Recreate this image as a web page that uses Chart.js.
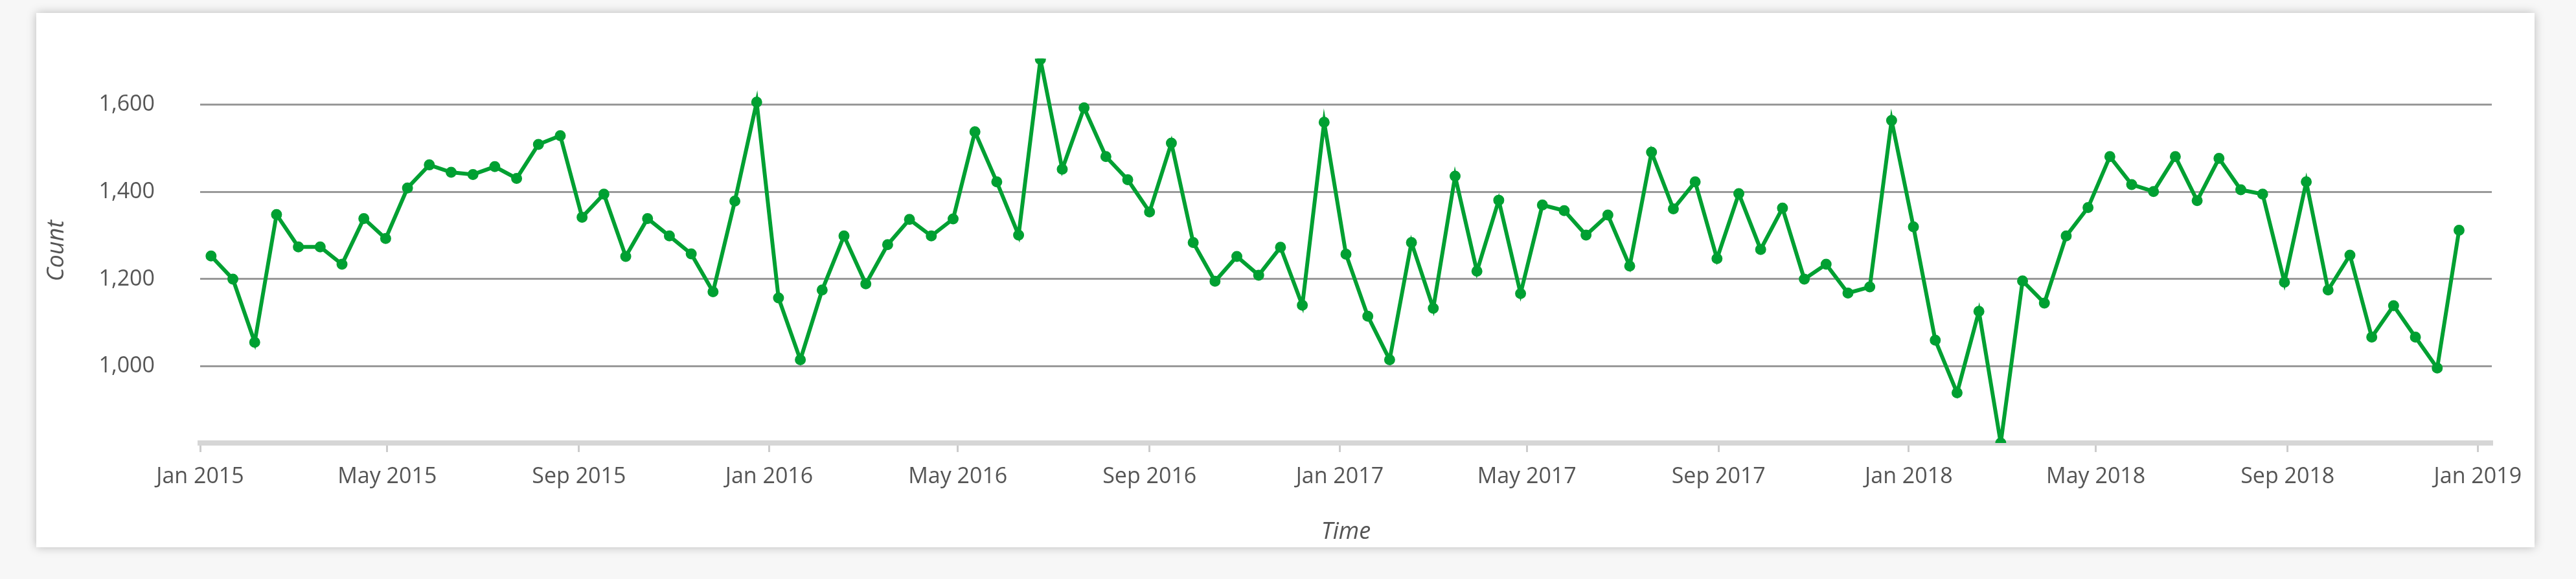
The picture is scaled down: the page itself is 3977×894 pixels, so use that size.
<!DOCTYPE html>
<html><head><meta charset="utf-8">
<script src="https://cdn.jsdelivr.net/npm/chart.js@4"></script>
<style>
html,body{margin:0;padding:0;background:#f7f7f7;}
#card{position:absolute;left:56px;top:20px;width:3857px;height:825px;background:#fff;box-shadow:0 0 14px rgba(0,0,0,0.25);}
#c{position:absolute;left:0;top:0;}
</style></head><body>
<div id="card"></div>
<canvas id="c" width="3977" height="894"></canvas>
<script>
const startDate = "2015-01-08";
const intervalDays = 14;
const counts = [1253,1200,1055,1348,1274,1274,1234,1339,1293,1409,1462,1445,1440,1458,1431,1509,1529,1342,1395,1252,1339,1299,1258,1171,1379,1606,
1157,1015,1175,1299,1189,1279,1337,1299,1338,1538,1423,1301,1704,1452,1593,1481,1428,1354,1512,1284,1195,1252,1209,1273,1140,1560,
1257,1115,1015,1284,1133,1436,1218,1381,1167,1370,1357,1301,1347,1230,1491,1361,1423,1247,1396,1268,1363,1200,1234,1168,1182,1564,
1320,1060,939,1126,824,1196,1145,1299,1364,1481,1417,1401,1481,1380,1477,1405,1395,1193,1423,1175,1255,1067,1139,1067,996,1312];
const xTickLabels = ["Jan 2015","May 2015","Sep 2015","Jan 2016","May 2016","Sep 2016","Jan 2017","May 2017","Sep 2017","Jan 2018","May 2018","Sep 2018","Jan 2019"];
const xTickDates = ["2015-01-01","2015-05-01","2015-09-01","2016-01-01","2016-05-01","2016-09-01","2017-01-01","2017-05-01","2017-09-01","2018-01-01","2018-05-01","2018-09-01","2019-01-01"];
const yTicks = [1000,1200,1400,1600];

const DAY = 86400000;
const t0 = Date.parse(startDate);
const pts = counts.map((v,i)=>({x:(t0+i*intervalDays*DAY)/DAY, y:v}));
const tickVals = xTickDates.map(d=>Date.parse(d)/DAY);
const font = {family:"'Open Sans', sans-serif", size:34};

new Chart(document.getElementById('c'),{
  type:'line',
  data:{datasets:[{data:pts,borderColor:'#00a032',backgroundColor:'#00a032',borderWidth:6,pointRadius:5.5,pointHoverRadius:5.5,tension:0}]},
  options:{
    responsive:false,animation:false,
    plugins:{legend:{display:false},tooltip:{enabled:false}},
    layout:{padding:{left:62,right:130,top:86,bottom:47}},
    scales:{
      x:{type:'linear',min:tickVals[0],max:tickVals[12]+9,
        afterBuildTicks:s=>{s.ticks=tickVals.map(v=>({value:v}));},
        afterFit:s=>{s.height=163;},
        ticks:{autoSkip:false,maxRotation:0,color:'#555',font,padding:18,callback:(v,i)=>xTickLabels[i]},
        grid:{display:true,drawOnChartArea:false,drawTicks:true,tickLength:14,color:'#cccccc',lineWidth:3},
        border:{display:true,color:'#d6d6d6',width:8},
        title:{display:true,text:'Time',color:'#555',font:{family:font.family,size:36,style:'italic'},padding:{top:10}}
      },
      y:{min:824,max:1706,
        afterBuildTicks:s=>{s.ticks=yTicks.map(v=>({value:v}));},
        afterFit:s=>{s.width=247;},
        ticks:{color:'#555',font,padding:70,callback:v=>v.toLocaleString('en-US')},
        grid:{color:'#999',lineWidth:3,drawTicks:false},
        border:{display:false},
        title:{display:true,text:'Count',color:'#555',font:{family:font.family,size:36,style:'italic'},padding:{bottom:0}}
      }
    }
  }
});
</script></body></html>
